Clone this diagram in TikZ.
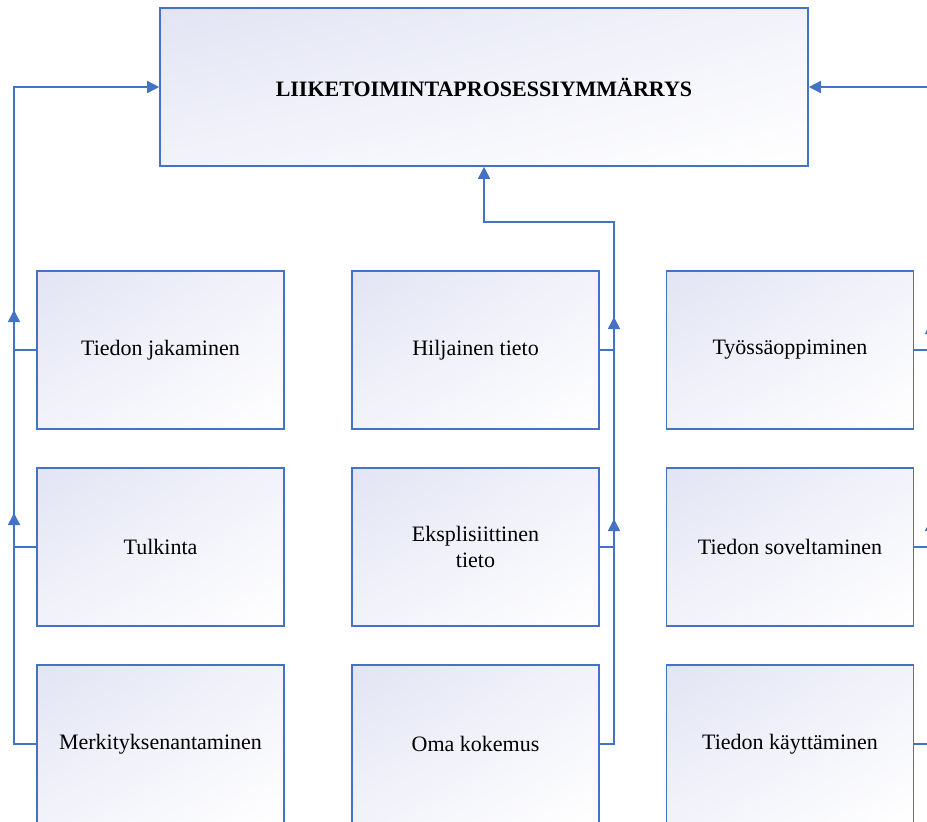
\documentclass[tikz,border=0pt]{standalone}
\usepackage{fontspec}
\setmainfont{Liberation Serif}
\usetikzlibrary{arrows.meta,shadings}

\definecolor{lineblue}{RGB}{68,114,196}
\definecolor{boxtint}{RGB}{226,228,244}

\begin{document}
\begin{tikzpicture}[x=0.75pt,y=-0.75pt,
    box/.style={draw=lineblue, line width=1.2pt,
      upper left=boxtint, upper right=boxtint!45!white,
      lower left=boxtint!45!white, lower right=white,
      minimum width=185.25pt, minimum height=118.5pt,
      font=\fontsize{16.5}{19.5}\selectfont, align=center},
    conn/.style={draw=lineblue, line width=1.2pt},
    flow/.style={conn, -{Triangle[length=9pt,width=9pt]}}]
  \useasboundingbox (0,0) rectangle (927,821);
  \clip (0,0) rectangle (927,821);

  % main box
  \node[box, minimum width=486pt, font=\fontsize{16.5}{19.5}\selectfont\bfseries]
    (top) at (484,87) {LIIKETOIMINTAPROSESSIYMMÄRRYS};

  % left column
  \node[box] (jak) at (160.5,350) {Tiedon jakaminen};
  \node[box] (tul) at (160.5,547) {Tulkinta};
  \node[box] (mer) at (160.5,744) {Merkityksenantaminen};

  % middle column
  \node[box] (hil) at (475.5,350) {Hiljainen tieto};
  \node[box] (eks) at (475.5,547) {Eksplisiittinen\\tieto};
  \node[box] (oma) at (475.5,744) {Oma kokemus};

  % right column
  \node[box] (tyo) at (790,350) {Työssäoppiminen};
  \node[box] (sov) at (790,547) {Tiedon soveltaminen};
  \node[box] (kay) at (790,744) {Tiedon käyttäminen};

  \coordinate (lx) at (14,744);
  \coordinate (mx) at (614,744);
  \coordinate (mturn) at (614,222);
  \coordinate (rx) at (931,744);

  % left connector
  \draw[flow] (mer.west) -- (lx) |- (top.west);
  \draw[conn] (jak.west) -- (jak.west -| lx);
  \draw[conn] (tul.west) -- (tul.west -| lx);
  \draw[flow] (jak.west -| lx) -- ++(0,-40);
  \draw[flow] (tul.west -| lx) -- ++(0,-34);

  % middle connector
  \draw[flow] (oma.east) -- (mx) -- (mturn) -| (top.south);
  \draw[conn] (hil.east) -- (hil.east -| mx);
  \draw[conn] (eks.east) -- (eks.east -| mx);
  \draw[flow] (hil.east -| mx) -- ++(0,-33);
  \draw[flow] (eks.east -| mx) -- ++(0,-28);

  % right connector
  \draw[flow] (kay.east) -- (rx) |- (top.east);
  \draw[conn] (tyo.east) -- (tyo.east -| rx);
  \draw[conn] (sov.east) -- (sov.east -| rx);
  \draw[flow] (tyo.east -| rx) -- ++(0,-28);
  \draw[flow] (sov.east -| rx) -- ++(0,-28);
\end{tikzpicture}
\end{document}
